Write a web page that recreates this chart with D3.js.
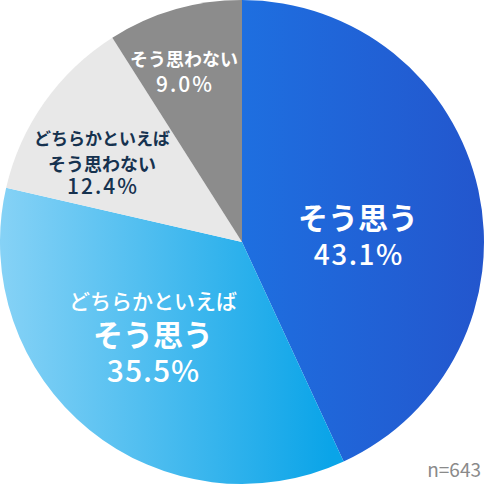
<!DOCTYPE html>
<html lang="ja">
<head>
<meta charset="utf-8">
<script src="https://cdn.jsdelivr.net/npm/d3@7"></script>
<style>
  body { margin: 0; background: #fff; }
  text { font-family: "Noto Sans CJK JP", "Noto Sans", sans-serif; font-weight: 700; }
</style>
</head>
<body>
<script>
// data
var labels = ["そう思う", "どちらかといえばそう思う", "どちらかといえばそう思わない", "そう思わない"];
var values = [43.1, 35.5, 12.4, 9.0];
var fills = ["url(#gBlue)", "url(#gLight)", "#e8e8e8", "#8c8c8c"];
var sampleNote = "n=643";

var w = 484, h = 485;
var cx = 242, cy = 242, r = 242;

var svg = d3.select("body").append("svg")
  .attr("width", w).attr("height", h);

// gradients (coords relative to pie centre)
var defs = svg.append("defs");
var g1 = defs.append("linearGradient").attr("id", "gBlue")
  .attr("gradientUnits", "userSpaceOnUse")
  .attr("x1", 0).attr("y1", 0).attr("x2", 242).attr("y2", 0);
g1.append("stop").attr("offset", "0%").attr("stop-color", "#1e6fe0");
g1.append("stop").attr("offset", "100%").attr("stop-color", "#2356cd");

var g2 = defs.append("linearGradient").attr("id", "gLight")
  .attr("gradientUnits", "userSpaceOnUse")
  .attr("x1", -242).attr("y1", 0).attr("x2", 90).attr("y2", 0);
g2.append("stop").attr("offset", "0%").attr("stop-color", "#86d2f6");
g2.append("stop").attr("offset", "100%").attr("stop-color", "#0aa4e8");

var pie = d3.pie().sort(null).value(function(d) { return d; });
var arc = d3.arc().innerRadius(0).outerRadius(r);

var g = svg.append("g").attr("transform", "translate(" + cx + "," + cy + ")");

g.selectAll("path")
  .data(pie(values))
  .enter()
  .append("path")
  .attr("d", arc)
  .style("fill", function(d, i) { return fills[i]; });

// labels: [text, size, baseline y, weight, letter-spacing]
var lab = [
  { x: 358, color: "#fff", lines: [["そう思う", 30, 229, 700, 0], ["43.1%", 28, 265, 500, 1.5]] },
  { x: 153, color: "#fff", lines: [["どちらかといえば", 21, 309, 500, 0], ["そう思う", 30, 346, 700, 0], ["35.5%", 30, 382, 500, 1]] },
  { x: 102, color: "#16324f", lines: [["どちらかといえば", 17, 145, 700, 0], ["そう思わない", 18, 171, 700, 0], ["12.4%", 21, 194, 500, 2]] },
  { x: 184, color: "#fff", lines: [["そう思わない", 18, 66, 700, 0], ["9.0%", 21, 92, 500, 2]] }
];

lab.forEach(function(L) {
  L.lines.forEach(function(ln) {
    svg.append("text")
      .attr("x", L.x + ln[4] / 2).attr("y", ln[2])
      .attr("text-anchor", "middle")
      .attr("font-size", ln[1])
      .style("font-weight", ln[3])
      .style("letter-spacing", ln[4] + "px")
      .attr("fill", L.color)
      .text(ln[0]);
  });
});

svg.append("text")
  .attr("x", 481).attr("y", 477)
  .attr("text-anchor", "end")
  .attr("font-size", 19)
  .style("font-weight", 400)
  .attr("fill", "#8a8a8a")
  .text(sampleNote);
</script>
</body>
</html>
